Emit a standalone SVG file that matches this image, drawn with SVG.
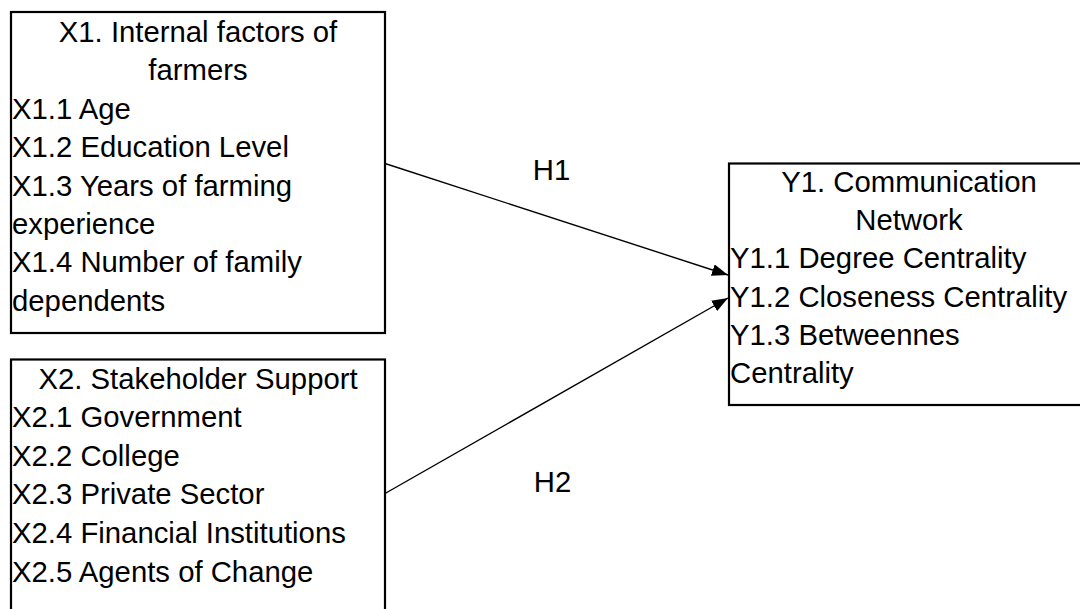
<svg xmlns="http://www.w3.org/2000/svg" width="1080" height="609" viewBox="0 0 1080 609">
<style>
.box{fill:#fff;stroke:#000;stroke-width:2.2}
.t{font-family:"Liberation Sans",Arial,sans-serif;font-size:29.3px;fill:#000}
.c{text-anchor:middle}
.conn{stroke:#000;stroke-width:1.4;fill:none}
</style>
<defs>
<marker id="ah" viewBox="0 0 16 12" refX="16" refY="6" markerWidth="16" markerHeight="12" markerUnits="userSpaceOnUse" orient="auto">
<path d="M0,0 L16,6 L0,12 Z" fill="#000"/>
</marker>
</defs>
<rect width="1080" height="609" fill="#fff"/>
<g id="x1">
<rect class="box" x="11" y="12" width="374" height="321"/>
<text class="t c" x="198" y="42">X1. Internal factors of</text>
<text class="t c" x="198" y="80.4">farmers</text>
<text class="t" x="12" y="118.8">X1.1 Age</text>
<text class="t" x="12" y="157.2">X1.2 Education Level</text>
<text class="t" x="12" y="195.6">X1.3 Years of farming</text>
<text class="t" x="12" y="234">experience</text>
<text class="t" x="12" y="272.4">X1.4 Number of family</text>
<text class="t" x="12" y="310.8">dependents</text>
</g>
<g id="x2">
<rect class="box" x="11" y="359.5" width="374" height="270"/>
<text class="t c" x="198" y="388.5">X2. Stakeholder Support</text>
<text class="t" x="12" y="427.2">X2.1 Government</text>
<text class="t" x="12" y="465.8">X2.2 College</text>
<text class="t" x="12" y="504.4">X2.3 Private Sector</text>
<text class="t" x="12" y="543">X2.4 Financial Institutions</text>
<text class="t" x="12" y="581.6">X2.5 Agents of Change</text>
</g>
<g id="y1">
<rect class="box" x="729" y="163.5" width="380" height="241.5"/>
<text class="t c" x="909" y="191.7">Y1. Communication</text>
<text class="t c" x="909" y="230">Network</text>
<text class="t" x="730" y="268.3">Y1.1 Degree Centrality</text>
<text class="t" x="730" y="306.7">Y1.2 Closeness Centrality</text>
<text class="t" x="730" y="345">Y1.3 Betweennes</text>
<text class="t" x="730" y="383.3">Centrality</text>
</g>
<g id="connectors">
<line class="conn" x1="385" y1="163.5" x2="728" y2="275" marker-end="url(#ah)"/>
<line class="conn" x1="385" y1="493.5" x2="728" y2="298" marker-end="url(#ah)"/>
<text class="t c" x="551.5" y="179.5">H1</text>
<text class="t c" x="552.5" y="491.7">H2</text>
</g>
</svg>
